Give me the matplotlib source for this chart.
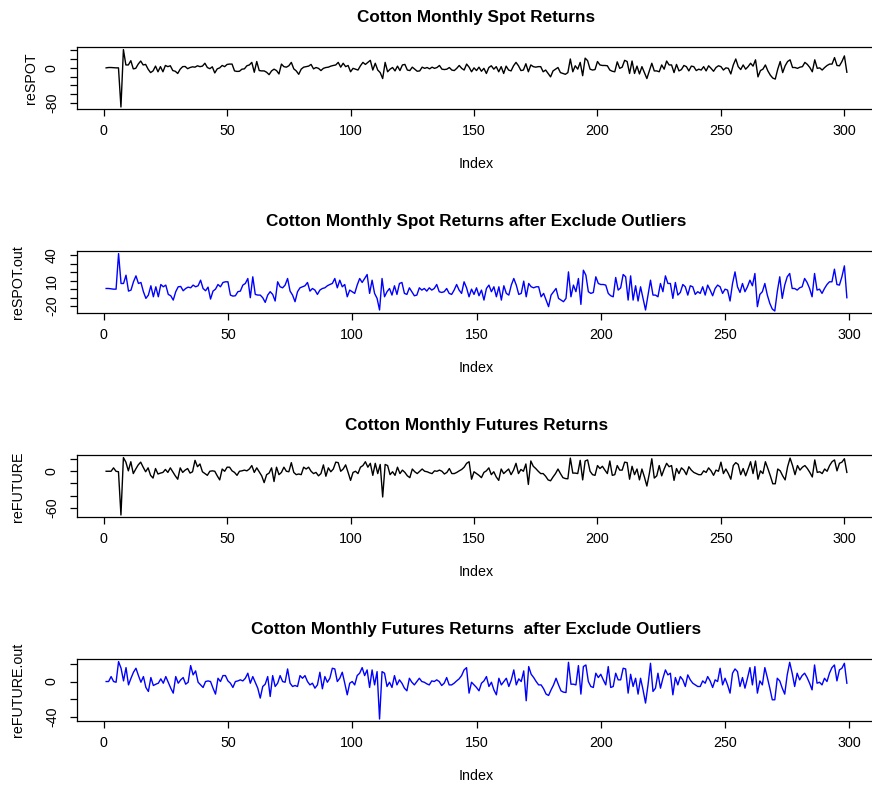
import numpy as np
import matplotlib
matplotlib.use("Agg")
import matplotlib.pyplot as plt

plt.rcParams['font.family'] = ['Liberation Sans', 'DejaVu Sans']

# Spot returns after excluding outliers (299 months)
spot_out = [
    0.8, 0.8, 0.4, 0, 0, 42, 6.7, 6.7, 16.5, -2.3,
    -1.1, 8.7, 15.7, 6.7, 7.9, -3, -10.9, -7, 4, -9,
    2.8, -9, 5.5, 2.8, 4.8, -6.2, -7.8, -12.9, -3, 2.8,
    3.2, -1.9, 0.8, 2.4, 1.6, 4.8, 2.8, 4, 10.6, 0.8,
    -1.9, 2.4, -11.7, -2.3, 0, 5.5, 2.8, 7.9, 8.7, 8.7,
    -7, -8.2, -7.8, -3, -2.3, 4.8, 6.7, 12.6, -10.1, 14.6,
    -6.2, -7, -7, -10.1, -15.6, -7, -3, -6.2, -14, 8.7,
    2.8, 1.6, 4.8, 12.6, -2.3, -7, -14.8, -3, 1.6, 2.8,
    4, 7.9, -2.3, 0.8, -1.1, -6.2, -1.1, 0.8, 1.6, 4,
    5.5, 6.7, 12.6, 1.6, 10.6, 2.8, 5.5,
    -9, -1.1, -3, -5, 4.8, 12.6, 7.9, 12.6, 17.3, -5,
    10.6, -5, -10.9, -24.6, 12.6, -9, -3, 0.8, -7, 4,
    -6.2, 6.7, 7.9, -5, -6.2, 1.6, -3, -7.8, -7, 1.6,
    -1.1, 0.8, -2.3, 1.6, -1.1, 0.8, 5.5, -3, -3.9, -3,
    0.8, -5, -6.2, -1.1, 5.5, -1.1, -5, 8.7, 1.6, -9,
    0, -6.2, 1.6, -7.8, -1.1, -12.9, 0.8, 4.8, -3, 2.8,
    -9, 2.8, -12.9, 4, -5, -7, 4.8, 12.6, 4.8, -6.2,
    -5, 9.5, -9, 6.7, 2.8, 1.6, 2.8, 2.8, -9, -5,
    -12.9, -20.7, -7, -3, 0.8, -10.9, -12.9, -14.8, -10.9, 20.4,
    -9, 4.8, -3, 12.6, -18, 22.4, 16.5, -3, -5, -3.9,
    14.6, 6.7, 5.5, 5.5, 4.8, -5,
    -7.8, -9, 13.8, -1.1, 1.6, 17.3, 14.6, -12.9, 15.7, -12.9,
    4, -14, 2.8, -10.9, -24.6, -7, 10.6, -7, -7, -9,
    6.7, -3, 15.7, 6.7, 6.7, -10.9, 7.9, -7, -3.9, 5.5,
    2.8, -7, 4, 2.8, -6.2, -3, -5, 2.8, -7, 4.8,
    -1.1, -7.8, 0.8, 4.8, 2.8, -5, 0, -1.1, -14, 6.7,
    20.4, 2.8, -3.9, 6.7, -3, 2.8, 10.6, 4, 18.5, -20.7,
    -6.2, -3, 6.7, -7, -16.8, -23.5, -25.8, -3, 14.6, -10.9,
    4.8, 14.6, 18.5, 0.8, 0.8, -1.1, 1.6, 2.8, 12.6, 7.9,
    0.8, -9, 18.5, -1.1, 0, -5, 0.8, 5.5, 8.7, 8.7,
    23.6, 5.5, 4.8, 14.6, 27.5, -10.1,
]

# Futures returns after excluding outliers (299 months)
fut_out = [
    0, 0, 5.6, 0, -0.8, 22.5, 15, 0.7, 15.7, -3.8,
    3.7, 10.5, 15, 6.7, -0.8, 5.6, -6.7, -11.2, 4.5, -4.5,
    -3, -1.9, 3, -1.9, 5.6, -0.8, -7.5, -13.1, 5.6, -1.9,
    1.9, 4.5, -3, -0.8, 18, 7.5, 12, -0.8, -3.8, -6.7,
    0, 0.7, 0, -7.5, -14.2, 3.7, 0, 6.7, 6.7, 0.7,
    -1.9, -6.7, 0, 0.7, 1.9, 0.7, 3.7, 9.4, -1.9, 5.6,
    -0.8, -7.5, -18.7, -5.6, -3, 5.6, -16.9, 6.7, -5.6, -1.9,
    6.7, 0, -0.8, 14.2, -1.9, -5.6, -4.5, -5.6, 6.7, 3.7,
    6.7, 0, -3.8, -1.9, -7.5, -3.8, 10.5, -8.2, 5.6, -0.8,
    3.7, 15, 14.2, 0, 3.7, 10.5, -1.9,
    -15, -1.9, 0, -3.8, 6.7, 9.4, 15.7, 6.7, 13.1, -6.7,
    13.1, -3.8, 11.2, -42.3, 11.2, 9.4, -5.6, -0.8, -6.7, 6.7,
    -3.8, 1.9, -1.9, -7.5, -10.5, 3.7, -0.8, -3.8, 0, 3.7,
    0, -0.8, -2.6, -3.8, 0.7, 0, 1.9, 0, -4.5, -1.9,
    4.5, -3.8, -3.8, -1.9, 0.7, 3, 6.7, 13.1, 15.7, -13.1,
    -0.8, -3.8, -6.7, -10.5, -1.9, 0.7, 5.6, -5.6, -0.8, -9.4,
    -15, 3.7, -3.8, 0, 3.7, -5.6, 1.9, 13.1, -3.8, 3,
    0, 12, -21.7, 16.9, 8.2, 4.5, 0, -3.8, -3.8, -8.2,
    -14.2, -15.7, -9.4, -3.8, 3.7, -3.8, -10.5, -12, -12.4, 21.7,
    -3, -3, -3.8, 18, -14.2, 16.9, 18.7, 0, -5.6, -6.7,
    9.4, 4.5, 8.2, 1.9, -3.8, 16.9,
    -6.7, -5.6, 9.4, 1.9, 1.9, 15, 14.2, -13.1, 8.2, -5.6,
    3.7, -14.2, 3.7, -9.4, -24.3, -3.8, 20.6, -11.2, -7.5, 9.4,
    -7.5, 3.7, 13.1, 7.5, 9.4, -15, 4.5, -3.8, 5.6, 1.9,
    -5.6, 7.5, 1.9, -1.9, -3.8, -5.6, -5.6, 0.7, -1.9, 5.6,
    0.7, -6.7, 1.9, 0, 15, -3.8, 3.7, -3.8, -13.1, 9.4,
    14.2, 11.2, -5.6, 4.5, -7.5, 3.7, 15.7, -3.8, 16.9, -13.1,
    0.7, -3.8, 15.7, 4.5, -7.5, -20.6, -20.6, 3.7, 0.7, -7.5,
    -14.2, 7.5, 21.7, 9.4, -5.6, 9.4, 1.9, 6.7, 9.4, 4.5,
    -1.9, -9.4, 18.7, -1.9, -0.8, -3.8, 3.7, 0, 9.4, 15.7,
    18.7, 0.7, 13.1, 15, 20.6, -1.9,
]

# Points removed as outliers (0-based position in the full series, value)
outlier_pos = [0, 6]
spot_outlier_vals = [0.0, -90.0]
fut_outlier_vals = [0.0, -72.0]


def restore(vals, pos, ov):
    full = list(vals)
    for p, v in zip(pos, ov):
        full.insert(p, v)
    return full


reSPOT = restore(spot_out, outlier_pos, spot_outlier_vals)
reFUTURE = restore(fut_out, outlier_pos, fut_outlier_vals)

titles = [
    "Cotton Monthly Spot Returns",
    "Cotton Monthly Spot Returns after Exclude Outliers",
    "Cotton Monthly Futures Returns",
    "Cotton Monthly Futures Returns  after Exclude Outliers",
]
ylabs = ["reSPOT", "reSPOT.out", "reFUTURE", "reFUTURE.out"]
series = [reSPOT, spot_out, reFUTURE, fut_out]
colors = ["black", "#0000FF", "black", "#0000FF"]
yticks = [
    [-80, -60, -40, -20, 0, 20, 40],
    [-20, -10, 0, 10, 20, 30, 40],
    [-60, -40, -20, 0, 20],
    [-40, -20, 0, 20],
]
ytick_labels = [
    {0: "0", -80: "-80"},
    {40: "40", 10: "10", -20: "-20"},
    {0: "0", -60: "-60"},
    {0: "0", -40: "-40"},
]
xticks = [0, 50, 100, 150, 200, 250, 300]

W, H = 872, 787
fig = plt.figure(figsize=(W / 100, H / 100), dpi=100)
fig.patch.set_facecolor("white")

box_left, box_w, box_h = 76.5, 800.0, 62.0
tops = [47.3, 251.3, 455.3, 659.3]
ylab_right = [38, 25, 25, 25]
PT = 100 / 72.0

for i in range(4):
    top = tops[i]
    ax = fig.add_axes([box_left / W, 1 - (top + box_h) / H, box_w / W, box_h / H])
    y = np.asarray(series[i], dtype=float)
    x = np.arange(1, len(y) + 1)
    ax.plot(x, y, color=colors[i], lw=1.0)
    n = len(y)
    ax.set_xlim(1 - 0.04 * (n - 1), n + 0.04 * (n - 1))
    rng = y.max() - y.min()
    ax.set_ylim(y.min() - 0.04 * rng, y.max() + 0.04 * rng)
    ax.set_xticks(xticks)
    ax.set_yticks(yticks[i])
    ax.set_yticklabels([ytick_labels[i].get(v, "") for v in yticks[i]])
    ax.tick_params(axis='both', direction='out', length=6.5 / PT, width=0.9,
                   labelsize=10.3, color='black')
    ax.tick_params(axis='x', pad=6.1)
    ax.tick_params(axis='y', pad=8.0)
    for lab in ax.get_yticklabels():
        lab.set_rotation(90)
        lab.set_va('center')
    for s in ax.spines.values():
        s.set_linewidth(0.9)
        s.set_color('black')
    ax.set_title(titles[i], fontsize=12.3, fontweight='bold', pad=18.0)
    ax.set_xlabel("Index", fontsize=10.3, labelpad=13.6)
    ax.set_ylabel(ylabs[i], fontsize=10.3)
    ax.yaxis.set_label_coords((ylab_right[i] - box_left) / box_w, 0.5)

fig.savefig("out.png", dpi=100, facecolor="white")
